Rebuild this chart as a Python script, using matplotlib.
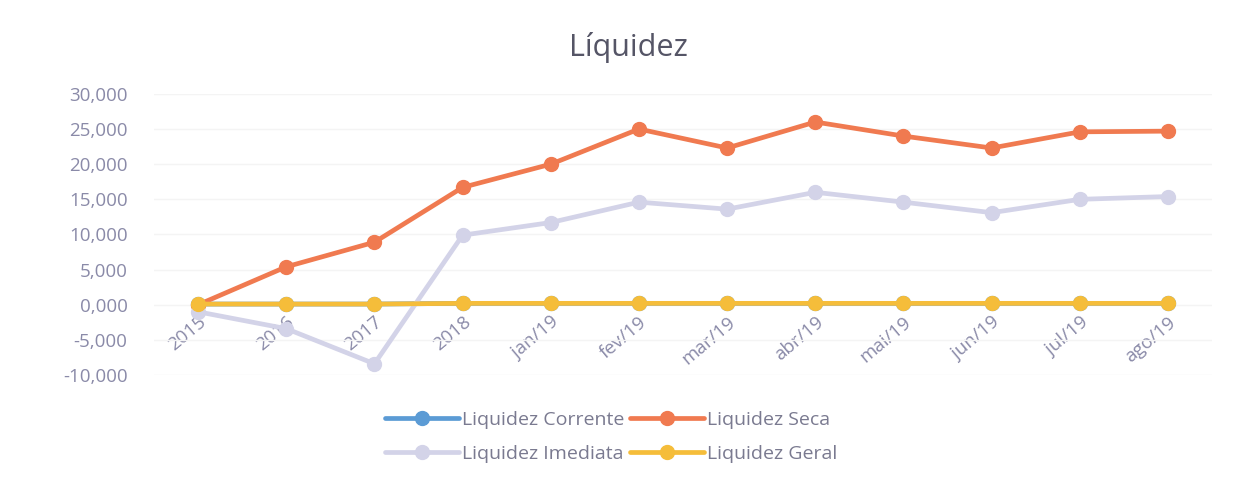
import matplotlib
matplotlib.use("Agg")
import matplotlib.pyplot as plt
from matplotlib.ticker import FuncFormatter

categories = ["2015", "2016", "2017", "2018", "jan/19", "fev/19", "mar/19",
              "abr/19", "mai/19", "jun/19", "jul/19", "ago/19"]
liq_corrente = [0.1, 0.1, 0.1, 0.2, 0.2, 0.2, 0.2, 0.2, 0.2, 0.2, 0.2, 0.2]
liq_seca = [0.0, 5.4, 8.9, 16.7, 20.0, 25.0, 22.3, 26.0, 24.0, 22.3, 24.6, 24.7]
liq_imediata = [-1.0, -3.4, -8.4, 9.9, 11.7, 14.6, 13.6, 16.0, 14.6, 13.1, 15.0, 15.4]
liq_geral = [0.1, 0.1, 0.1, 0.2, 0.2, 0.2, 0.2, 0.2, 0.2, 0.2, 0.2, 0.2]
yticks = [-10, -5, 0, 5, 10, 15, 20, 25, 30]

plt.rcParams['font.family'] = ['Open Sans', 'DejaVu Sans']

fig = plt.figure(figsize=(12.47, 4.79), dpi=100)
ax = fig.add_axes([0.1235, 0.217, 0.8485, 0.587])
x = list(range(len(categories)))

series = [
    ("Liquidez Corrente", liq_corrente, "#5b9bd5"),
    ("Liquidez Seca", liq_seca, "#f07a50"),
    ("Liquidez Imediata", liq_imediata, "#d3d3e8"),
    ("Liquidez Geral", liq_geral, "#f5bd3a"),
]
lines = {}
for name, vals, col in series:
    ln, = ax.plot(x, vals, color=col, lw=3.4, marker="o", markersize=10,
                  label=name, solid_capstyle="round")
    lines[name] = ln

ax.set_xlim(-0.5, 11.5)
ax.set_ylim(-10, 30)
ax.spines["bottom"].set_position(("data", 0))
ax.set_yticks(yticks)
ax.yaxis.set_major_formatter(FuncFormatter(lambda v, p: f"{v:.3f}".replace(".", ",")))
ax.set_xticks(x)
ax.set_xticklabels(categories)
ax.tick_params(axis="both", length=0, labelsize=13.5, labelcolor="#8a8aa8")
ax.tick_params(axis="y", pad=19)
ax.tick_params(axis="x", pad=6)
for lab in ax.get_xticklabels():
    lab.set_rotation(40)
    lab.set_ha("right")
    lab.set_rotation_mode("anchor")
ax.grid(axis="y", color="#f4f4f4", lw=1)
ax.set_axisbelow(True)
for s in ax.spines.values():
    s.set_visible(False)

fig.text(0.504, 0.9, "Líquidez", ha="center", va="center", fontsize=22, color="#555566")

order = ["Liquidez Corrente", "Liquidez Imediata", "Liquidez Seca", "Liquidez Geral"]
fig.legend([lines[n] for n in order], order, loc="center", bbox_to_anchor=(0.49, 0.088),
           ncol=2, frameon=False, fontsize=14, labelcolor="#7a7a90", handlelength=3.8,
           handletextpad=0.15, columnspacing=0.3, labelspacing=0.85, borderpad=0)

fig.savefig("out.png", dpi=100, facecolor="white")
